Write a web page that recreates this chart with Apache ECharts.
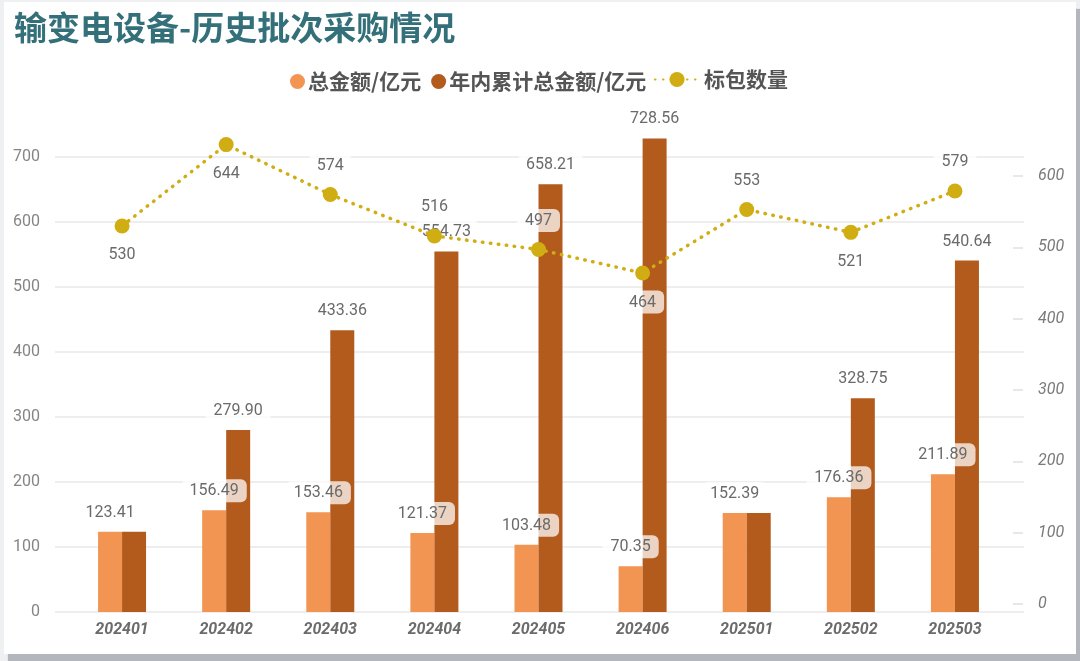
<!DOCTYPE html>
<html lang="zh">
  <head>
    <meta charset="UTF-8" />
    <title>输变电设备-历史批次采购情况</title>
    <script src="https://cdn.jsdelivr.net/npm/echarts@6/dist/echarts.min.js"></script>
    <style>
      html, body { margin: 0; padding: 0; }
      body { width: 1080px; height: 661px; background: #eef0f1; position: relative; overflow: hidden; }
      #card {
        position: absolute; left: 4px; top: 2px; width: 1072px; height: 652px;
        background: #fff; box-shadow: 4px 7px 1px #b3b7bd;
      }
      #main { position: absolute; left: 0; top: 0; width: 1080px; height: 661px; }
    </style>
  </head>
  <body>
    <div id="card"></div>
    <div id="main"></div>
    <script>
      // 数据
      var categories = ["202401", "202402", "202403", "202404", "202405", "202406", "202501", "202502", "202503"];
      var totalAmount = [123.41, 156.49, 153.46, 121.37, 103.48, 70.35, 152.39, 176.36, 211.89];
      var cumulativeAmount = [123.41, 279.9, 433.36, 554.73, 658.21, 728.56, 152.39, 328.75, 540.64];
      var packageCount = [530, 644, 574, 516, 497, 464, 553, 521, 579];
      var amountAxisMax = 700;
      var countAxisMax = 600;

      var numFont = "Roboto, 'Noto Sans CJK SC', sans-serif";
      var cjkFont = "'Noto Sans CJK SC', sans-serif";

      // 标签样式：白色半透明底
      var boxLabel = {
        show: true,
        color: "#6a6a6a",
        fontSize: 16,
        fontFamily: numFont,
        backgroundColor: "rgba(255,255,255,0.74)",
        borderRadius: 6,
        padding: [4, 8, 3, 8],
      };

      // 折线标签放在点下方的位置（避让）
      var countLabelBelow = [0, 1, 5, 7];

      var chart = echarts.init(document.getElementById("main"), null, { renderer: "canvas" });

      var option = {
        animation: false,
        title: {
          text: "输变电设备-历史批次采购情况",
          left: 9,
          top: 6,
          textStyle: { color: "#33707a", fontSize: 33, fontWeight: "bold", fontFamily: cjkFont },
        },
        legend: [
          {
            data: ["总金额/亿元", "年内累计总金额/亿元"],
            left: 285,
            top: 66,
            icon: "circle",
            itemWidth: 15,
            itemHeight: 15,
            itemGap: 10,
            textStyle: { color: "#555", fontSize: 21, fontWeight: "bold", fontFamily: cjkFont, padding: [0, 0, 0, -2] },
          },
          {
            data: ["标包数量"],
            left: 649,
            top: 64,
            itemWidth: 44,
            itemHeight: 19,
            textStyle: { color: "#555", fontSize: 21, fontWeight: "bold", fontFamily: cjkFont },
          },
        ],
        grid: [
          // 背景网格线
          { left: 55, right: 56, top: 157, bottom: 49 },
          // 柱形
          { left: 70, right: 73, top: 157, bottom: 49 },
          // 折线（次坐标轴）
          { left: 70, right: 73, top: 176, bottom: 57 },
        ],
        xAxis: [
          { gridIndex: 0, type: "value", min: 0, max: 1, show: false },
          {
            gridIndex: 1,
            type: "category",
            data: categories,
            axisLine: { show: false },
            axisTick: { show: false },
            axisLabel: {
              margin: 10,
              color: "#6b6b6b",
              fontSize: 16,
              fontWeight: "bold",
              fontStyle: "italic",
              fontFamily: numFont,
            },
          },
          { gridIndex: 2, type: "category", data: categories, show: false },
        ],
        yAxis: [
          {
            gridIndex: 0,
            type: "value",
            min: 0,
            max: amountAxisMax,
            interval: 100,
            axisLine: { show: false },
            axisTick: { show: false },
            axisLabel: { margin: 15, color: "#858585", fontSize: 16, fontFamily: numFont },
            splitLine: { lineStyle: { color: "#e8e8e8", width: 1.5 } },
          },
          {
            gridIndex: 1,
            type: "value",
            min: 0,
            max: amountAxisMax,
            show: false,
            splitLine: { show: false },
          },
          {
            gridIndex: 2,
            type: "value",
            position: "right",
            offset: 6,
            min: 0,
            max: countAxisMax,
            interval: 100,
            axisLine: { show: false },
            axisTick: { show: true, length: 10, lineStyle: { color: "#e0e0e0", width: 1.5 } },
            axisLabel: { margin: 25, color: "#7a7a7a", fontSize: 16, fontStyle: "italic", fontFamily: numFont },
            splitLine: { show: false },
          },
        ],
        series: [
          {
            name: "总金额/亿元",
            type: "bar",
            xAxisIndex: 1,
            yAxisIndex: 1,
            barWidth: 24,
            barGap: "0%",
            clip: false,
            itemStyle: { color: "#f29552" },
            label: Object.assign({}, boxLabel, { position: "top", distance: 8 }),
            data: totalAmount,
            z: 2,
          },
          {
            name: "年内累计总金额/亿元",
            type: "bar",
            xAxisIndex: 1,
            yAxisIndex: 1,
            barWidth: 24,
            barGap: "0%",
            clip: false,
            itemStyle: { color: "#b35b1c" },
            label: Object.assign({}, boxLabel, {
              position: "top",
              distance: 8,
              formatter: function (p) {
                return p.value.toFixed(2);
              },
            }),
            data: cumulativeAmount.map(function (v, i) {
              // 与当批金额相同时不重复显示
              return v === totalAmount[i] ? { value: v, label: { show: false } } : v;
            }),
            z: 2,
          },
          {
            name: "标包数量",
            type: "line",
            xAxisIndex: 2,
            yAxisIndex: 2,
            clip: false,
            symbol: "circle",
            symbolSize: 15,
            itemStyle: { color: "#d0ad12" },
            lineStyle: { color: "#d0ad12", width: 3.5, type: [0.5, 7.5], cap: "round" },
            label: Object.assign({}, boxLabel, { position: "top", distance: 10 }),
            data: packageCount.map(function (v, i) {
              return countLabelBelow.indexOf(i) >= 0 ? { value: v, label: { position: "bottom" } } : v;
            }),
            z: 5,
          },
        ],
      };

      chart.setOption(option);
    </script>
  </body>
</html>
